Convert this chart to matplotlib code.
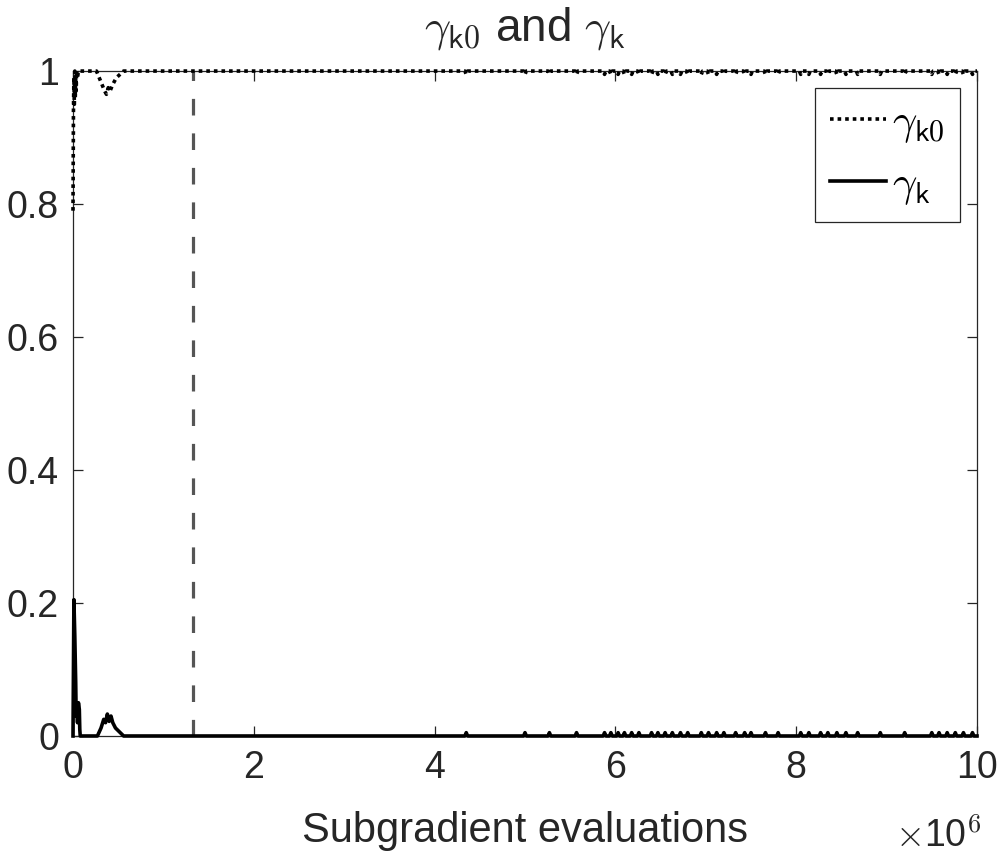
import numpy as np
import matplotlib
matplotlib.use("Agg")
import matplotlib.pyplot as plt

plt.rcParams['font.family'] = ['Liberation Sans', 'DejaVu Sans']
plt.rcParams['mathtext.fontset'] = 'cm'

# values, x in units of 1e6 evaluations
gk0_x = [0.0, 0.005, 0.01, 0.015, 0.02, 0.025, 0.03, 0.035, 0.04, 0.05, 0.06,
         0.26, 0.29, 0.32, 0.35, 0.37, 0.39, 0.41, 0.44, 0.48, 0.52, 0.56,
         4.335, 4.35, 4.365, 4.985, 5.0, 5.015, 5.255, 5.27, 5.285,
         5.555, 5.57, 5.585, 5.865, 5.88, 5.895, 5.935, 5.95, 5.965,
         6.015, 6.03, 6.045, 6.085, 6.1, 6.115, 6.165, 6.18, 6.195,
         6.245, 6.26, 6.275, 6.385, 6.4, 6.415, 6.455, 6.47, 6.485,
         6.535, 6.55, 6.565, 6.615, 6.63, 6.645, 6.705, 6.72, 6.735,
         6.785, 6.8, 6.815, 6.935, 6.95, 6.965, 7.015, 7.03, 7.045,
         7.105, 7.12, 7.135, 7.185, 7.2, 7.215, 7.315, 7.33, 7.345,
         7.415, 7.43, 7.445, 7.485, 7.5, 7.515, 7.645, 7.66, 7.675,
         7.785, 7.8, 7.815, 8.035, 8.05, 8.065, 8.125, 8.14, 8.155,
         8.255, 8.27, 8.285, 8.335, 8.35, 8.365, 8.435, 8.45, 8.465,
         8.535, 8.55, 8.565, 8.665, 8.68, 8.695, 8.915, 8.93, 8.945,
         9.185, 9.2, 9.215, 9.485, 9.5, 9.515, 9.565, 9.58, 9.595,
         9.655, 9.67, 9.685, 9.745, 9.76, 9.775, 9.835, 9.85, 9.865,
         9.935, 9.95, 9.965, 10.0]
gk0_y = [0.79, 0.94, 0.99, 0.95, 1.0, 0.96, 0.99, 0.97, 1.0, 0.99, 1.0,
         1.0, 0.99, 0.98, 0.97, 0.965, 0.975, 0.97, 0.98, 0.99, 0.995, 1.0,
         1.0, 0.995, 1.0, 1.0, 0.995, 1.0, 1.0, 0.995, 1.0,
         1.0, 0.995, 1.0, 1.0, 0.995, 1.0, 1.0, 0.995, 1.0,
         1.0, 0.995, 1.0, 1.0, 0.995, 1.0, 1.0, 0.995, 1.0,
         1.0, 0.995, 1.0, 1.0, 0.995, 1.0, 1.0, 0.995, 1.0,
         1.0, 0.995, 1.0, 1.0, 0.995, 1.0, 1.0, 0.995, 1.0,
         1.0, 0.995, 1.0, 1.0, 0.995, 1.0, 1.0, 0.995, 1.0,
         1.0, 0.995, 1.0, 1.0, 0.995, 1.0, 1.0, 0.995, 1.0,
         1.0, 0.995, 1.0, 1.0, 0.995, 1.0, 1.0, 0.995, 1.0,
         1.0, 0.995, 1.0, 1.0, 0.995, 1.0, 1.0, 0.995, 1.0,
         1.0, 0.995, 1.0, 1.0, 0.995, 1.0, 1.0, 0.995, 1.0,
         1.0, 0.995, 1.0, 1.0, 0.995, 1.0, 1.0, 0.995, 1.0,
         1.0, 0.995, 1.0, 1.0, 0.995, 1.0, 1.0, 0.995, 1.0,
         1.0, 0.995, 1.0, 1.0, 0.995, 1.0, 1.0, 0.995, 1.0,
         1.0, 0.995, 1.0, 1.0]

gk_x = [0.0, 0.01, 0.02, 0.03, 0.035, 0.04, 0.05, 0.06, 0.07, 0.075, 0.08,
        0.27, 0.31, 0.34, 0.36, 0.38, 0.40, 0.42, 0.44, 0.47, 0.50, 0.53, 0.56,
        4.335, 4.35, 4.365, 4.985, 5.0, 5.015, 5.255, 5.27, 5.285,
        5.555, 5.57, 5.585, 5.865, 5.88, 5.895, 5.935, 5.95, 5.965,
        6.015, 6.03, 6.045, 6.085, 6.1, 6.115, 6.165, 6.18, 6.195,
        6.245, 6.26, 6.275, 6.385, 6.4, 6.415, 6.455, 6.47, 6.485,
        6.535, 6.55, 6.565, 6.615, 6.63, 6.645, 6.705, 6.72, 6.735,
        6.785, 6.8, 6.815, 6.935, 6.95, 6.965, 7.015, 7.03, 7.045,
        7.105, 7.12, 7.135, 7.185, 7.2, 7.215, 7.315, 7.33, 7.345,
        7.415, 7.43, 7.445, 7.485, 7.5, 7.515, 7.645, 7.66, 7.675,
        7.785, 7.8, 7.815, 8.035, 8.05, 8.065, 8.125, 8.14, 8.155,
        8.255, 8.27, 8.285, 8.335, 8.35, 8.365, 8.435, 8.45, 8.465,
        8.535, 8.55, 8.565, 8.665, 8.68, 8.695, 8.915, 8.93, 8.945,
        9.185, 9.2, 9.215, 9.485, 9.5, 9.515, 9.565, 9.58, 9.595,
        9.655, 9.67, 9.685, 9.745, 9.76, 9.775, 9.835, 9.85, 9.865,
        9.935, 9.95, 9.965, 10.0]
gk_y = [0.0, 0.205, 0.15, 0.08, 0.03, 0.05, 0.02, 0.05, 0.04, 0.01, 0.0,
        0.0, 0.012, 0.025, 0.02, 0.033, 0.022, 0.03, 0.02, 0.012, 0.008, 0.004, 0.0,
        0.0, 0.005, 0.0, 0.0, 0.005, 0.0, 0.0, 0.005, 0.0,
        0.0, 0.005, 0.0, 0.0, 0.005, 0.0, 0.0, 0.005, 0.0,
        0.0, 0.005, 0.0, 0.0, 0.005, 0.0, 0.0, 0.005, 0.0,
        0.0, 0.005, 0.0, 0.0, 0.005, 0.0, 0.0, 0.005, 0.0,
        0.0, 0.005, 0.0, 0.0, 0.005, 0.0, 0.0, 0.005, 0.0,
        0.0, 0.005, 0.0, 0.0, 0.005, 0.0, 0.0, 0.005, 0.0,
        0.0, 0.005, 0.0, 0.0, 0.005, 0.0, 0.0, 0.005, 0.0,
        0.0, 0.005, 0.0, 0.0, 0.005, 0.0, 0.0, 0.005, 0.0,
        0.0, 0.005, 0.0, 0.0, 0.005, 0.0, 0.0, 0.005, 0.0,
        0.0, 0.005, 0.0, 0.0, 0.005, 0.0, 0.0, 0.005, 0.0,
        0.0, 0.005, 0.0, 0.0, 0.005, 0.0, 0.0, 0.005, 0.0,
        0.0, 0.005, 0.0, 0.0, 0.005, 0.0, 0.0, 0.005, 0.0,
        0.0, 0.005, 0.0, 0.0, 0.005, 0.0, 0.0, 0.005, 0.0,
        0.0, 0.005, 0.0, 0.0]

switch_x = 1.33  # dashed vertical marker

x_ticks = [0, 2, 4, 6, 8, 10]
y_ticks = [0, 0.2, 0.4, 0.6, 0.8, 1]
y_tick_labels = ['0', '0.2', '0.4', '0.6', '0.8', '1']

axcol = '#262626'

fig = plt.figure(figsize=(10, 8.56), dpi=100)
ax = fig.add_axes([0.073, 0.1402, 0.904, 0.7768])

ax.plot(gk0_x, gk0_y, color='black', lw=2.6, linestyle=(0, (1, 1.1)),
        label=r'$\gamma_{\mathsf{k0}}$', clip_on=False, zorder=3)
ax.plot(gk_x, gk_y, color='black', lw=2.6, label=r'$\gamma_{\mathsf{k}}$',
        clip_on=False, zorder=3)
ax.axvline(switch_x, color='#555555', lw=2.3, linestyle=(0, (5.2, 5.6)), zorder=2)

ax.set_xlim(0, 10)
ax.set_ylim(0, 1)
ax.set_xticks(x_ticks)
ax.set_xticklabels([str(t) for t in x_ticks])
ax.set_yticks(y_ticks)
ax.set_yticklabels(y_tick_labels)
ax.tick_params(direction='in', top=True, right=True, length=7, width=0.9,
               labelsize=27, colors=axcol, pad=10)
for s in ax.spines.values():
    s.set_color(axcol)
    s.set_linewidth(0.9)

ax.set_xlabel('Subgradient evaluations', fontsize=30, color=axcol, labelpad=18)
ax.set_title(r'$\gamma_{\mathsf{k0}}$ and $\gamma_{\mathsf{k}}$', fontsize=33,
             color=axcol, pad=22)
fig.text(0.895, 0.01, r'$\times$10$^{\mathsf{6}}$', fontsize=27, color=axcol)

leg = ax.legend(loc='upper right', bbox_to_anchor=(0.981, 0.974), borderaxespad=0,
                fontsize=31, frameon=True, fancybox=False, framealpha=1,
                handlelength=1.3, handletextpad=0.15, labelspacing=0.45,
                borderpad=0.35)
leg.get_frame().set_edgecolor(axcol)
leg.get_frame().set_linewidth(0.9)

fig.savefig('out.png', dpi=100)
